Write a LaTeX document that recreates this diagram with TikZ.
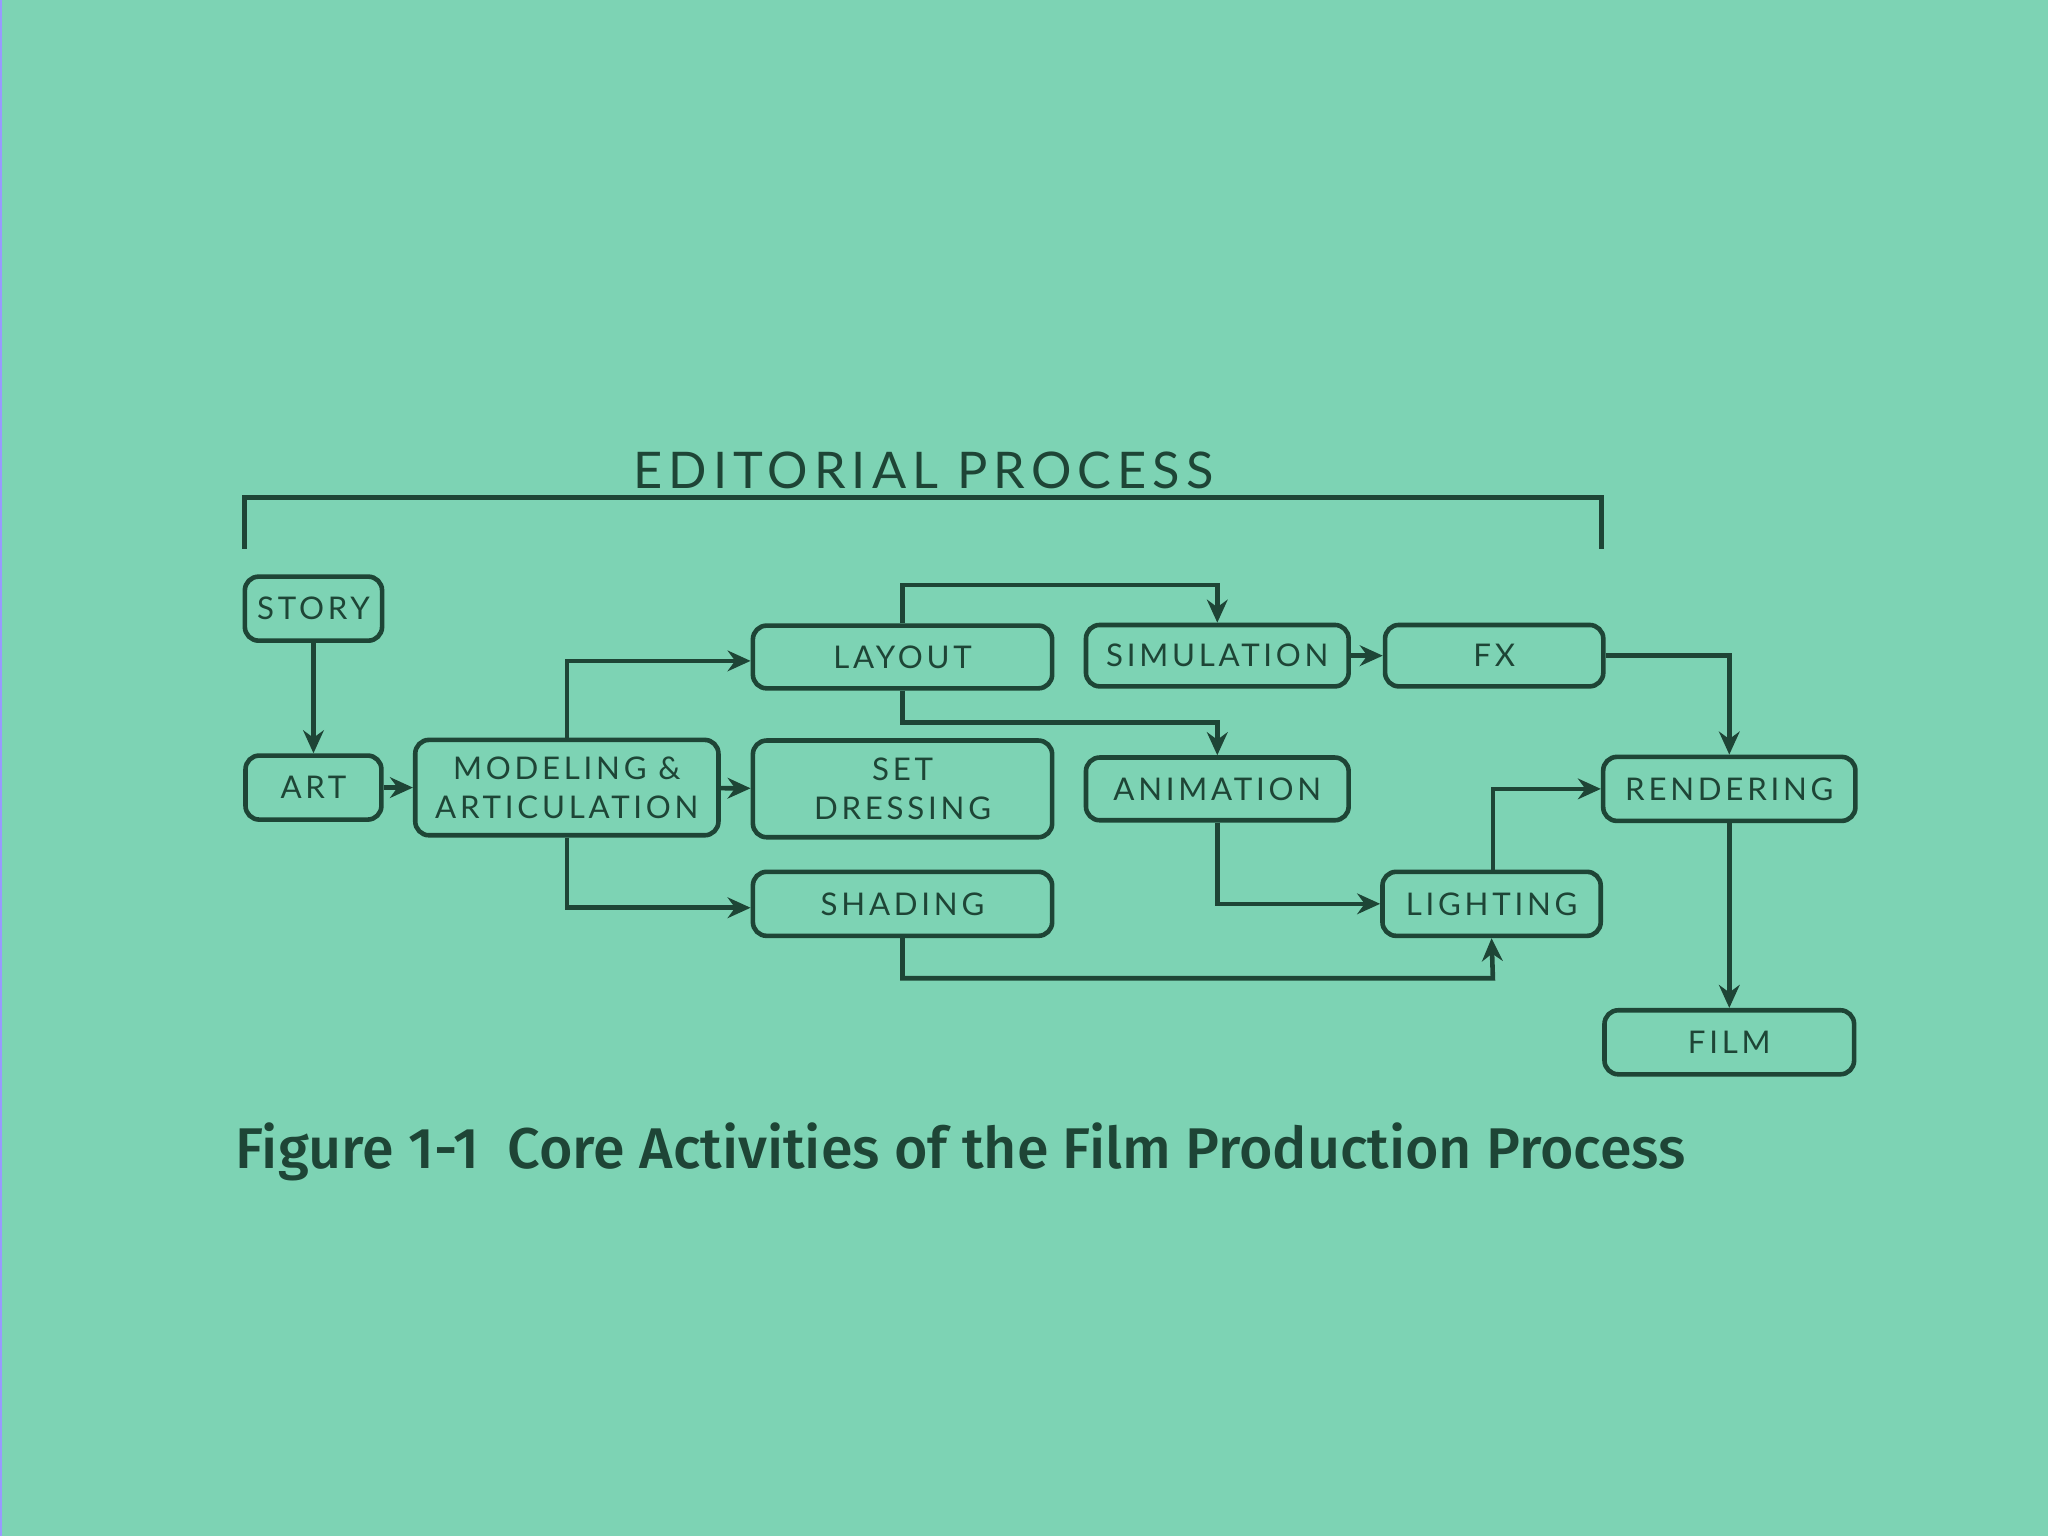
\documentclass[tikz,border=0pt]{standalone}
\usepackage{fontspec}
\setmainfont{Lato}
\newfontfamily\boxfont[LetterSpace=12]{Lato}
\newfontfamily\capfont{Fira Sans Medium}
\usetikzlibrary{arrows.meta}
\definecolor{bg}{HTML}{7DD3B4}
\definecolor{ink}{HTML}{1E4536}
\begin{document}
\begin{tikzpicture}[x=0.01cm,y=-0.01cm,
  box/.style={draw=ink,line width=1pt,rounded corners=3pt,inner sep=0pt,align=center,
    text=ink,font=\boxfont\fontsize{6.8}{8.4}\selectfont},
  conn/.style={draw=ink,line width=1pt,-{Stealth[length=5pt,width=4.5pt]}}]
\useasboundingbox (0,0) rectangle (1568,1176);
\fill[bg] (0,0) rectangle (1568,1176);
\draw[blue!40,line width=0.6pt] (0.5,0) -- (0.5,1176);
\node[box,minimum width=1.05cm,minimum height=0.49cm] (story) at (240,466) {STORY};
\node[box,minimum width=1.04cm,minimum height=0.49cm] (art) at (240,603) {ART};
\node[box,minimum width=2.32cm,minimum height=0.73cm] (mod) at (434,603) {MODELING \&\\ARTICULATION};
\node[box,minimum width=2.29cm,minimum height=0.48cm] (lay) at (691,503) {LAYOUT};
\node[box,minimum width=2.29cm,minimum height=0.74cm] (set) at (691,604) {SET\\DRESSING};
\node[box,minimum width=2.29cm,minimum height=0.49cm] (sha) at (691,692) {SHADING};
\node[box,minimum width=2.01cm,minimum height=0.47cm] (sim) at (932,502) {SIMULATION};
\node[box,minimum width=1.67cm,minimum height=0.47cm] (fx) at (1144,502) {FX};
\node[box,minimum width=2.01cm,minimum height=0.48cm] (ani) at (932,604) {ANIMATION};
\node[box,minimum width=1.67cm,minimum height=0.49cm] (lig) at (1142,692) {LIGHTING};
\node[box,minimum width=1.93cm,minimum height=0.49cm] (ren) at (1324,604) {RENDERING};
\node[box,minimum width=1.91cm,minimum height=0.49cm] (film) at (1324,798) {FILM};
\node[text=ink,font=\boxfont\fontsize{11}{13}\selectfont] (title) at (707,360) {EDITORIAL PROCESS};
\draw[ink,line width=1pt] (187,420) -- (187,381) -- (1226,381) -- (1226,420);
\node[text=ink,anchor=west,font=\capfont\fontsize{12.5}{15}\selectfont] (cap) at (168,882) {Figure 1-1\enspace Core Activities of the Film Production Process};
\draw[conn] (story) -- (art);
\draw[conn] (art) -- (mod);
\draw[conn] (mod) -- (set);
\draw[conn] (mod.north) -- (434,506) -- (lay.west |- 0,506);
\draw[conn] (mod.south) -- (434,695) -- (sha.west |- 0,695);
\draw[conn] (lay.north) -- (691,448) -- (932,448) -- (sim.north);
\draw[conn] (lay.south) -- (691,553) -- (932,553) -- (ani.north);
\draw[conn] (sim) -- (fx);
\draw[conn] (fx.east) -- (1324,502) -- (ren.north);
\draw[conn] (ani.south) -- (932,692) -- (lig.west);
\draw[conn] (1143,668) -- (1143,604) -- (ren.west);
\draw[conn] (sha.south) -- (691,749) -- (1143,749) -- (lig.south);
\draw[conn] (ren.south) -- (film.north);
\end{tikzpicture}
\end{document}
